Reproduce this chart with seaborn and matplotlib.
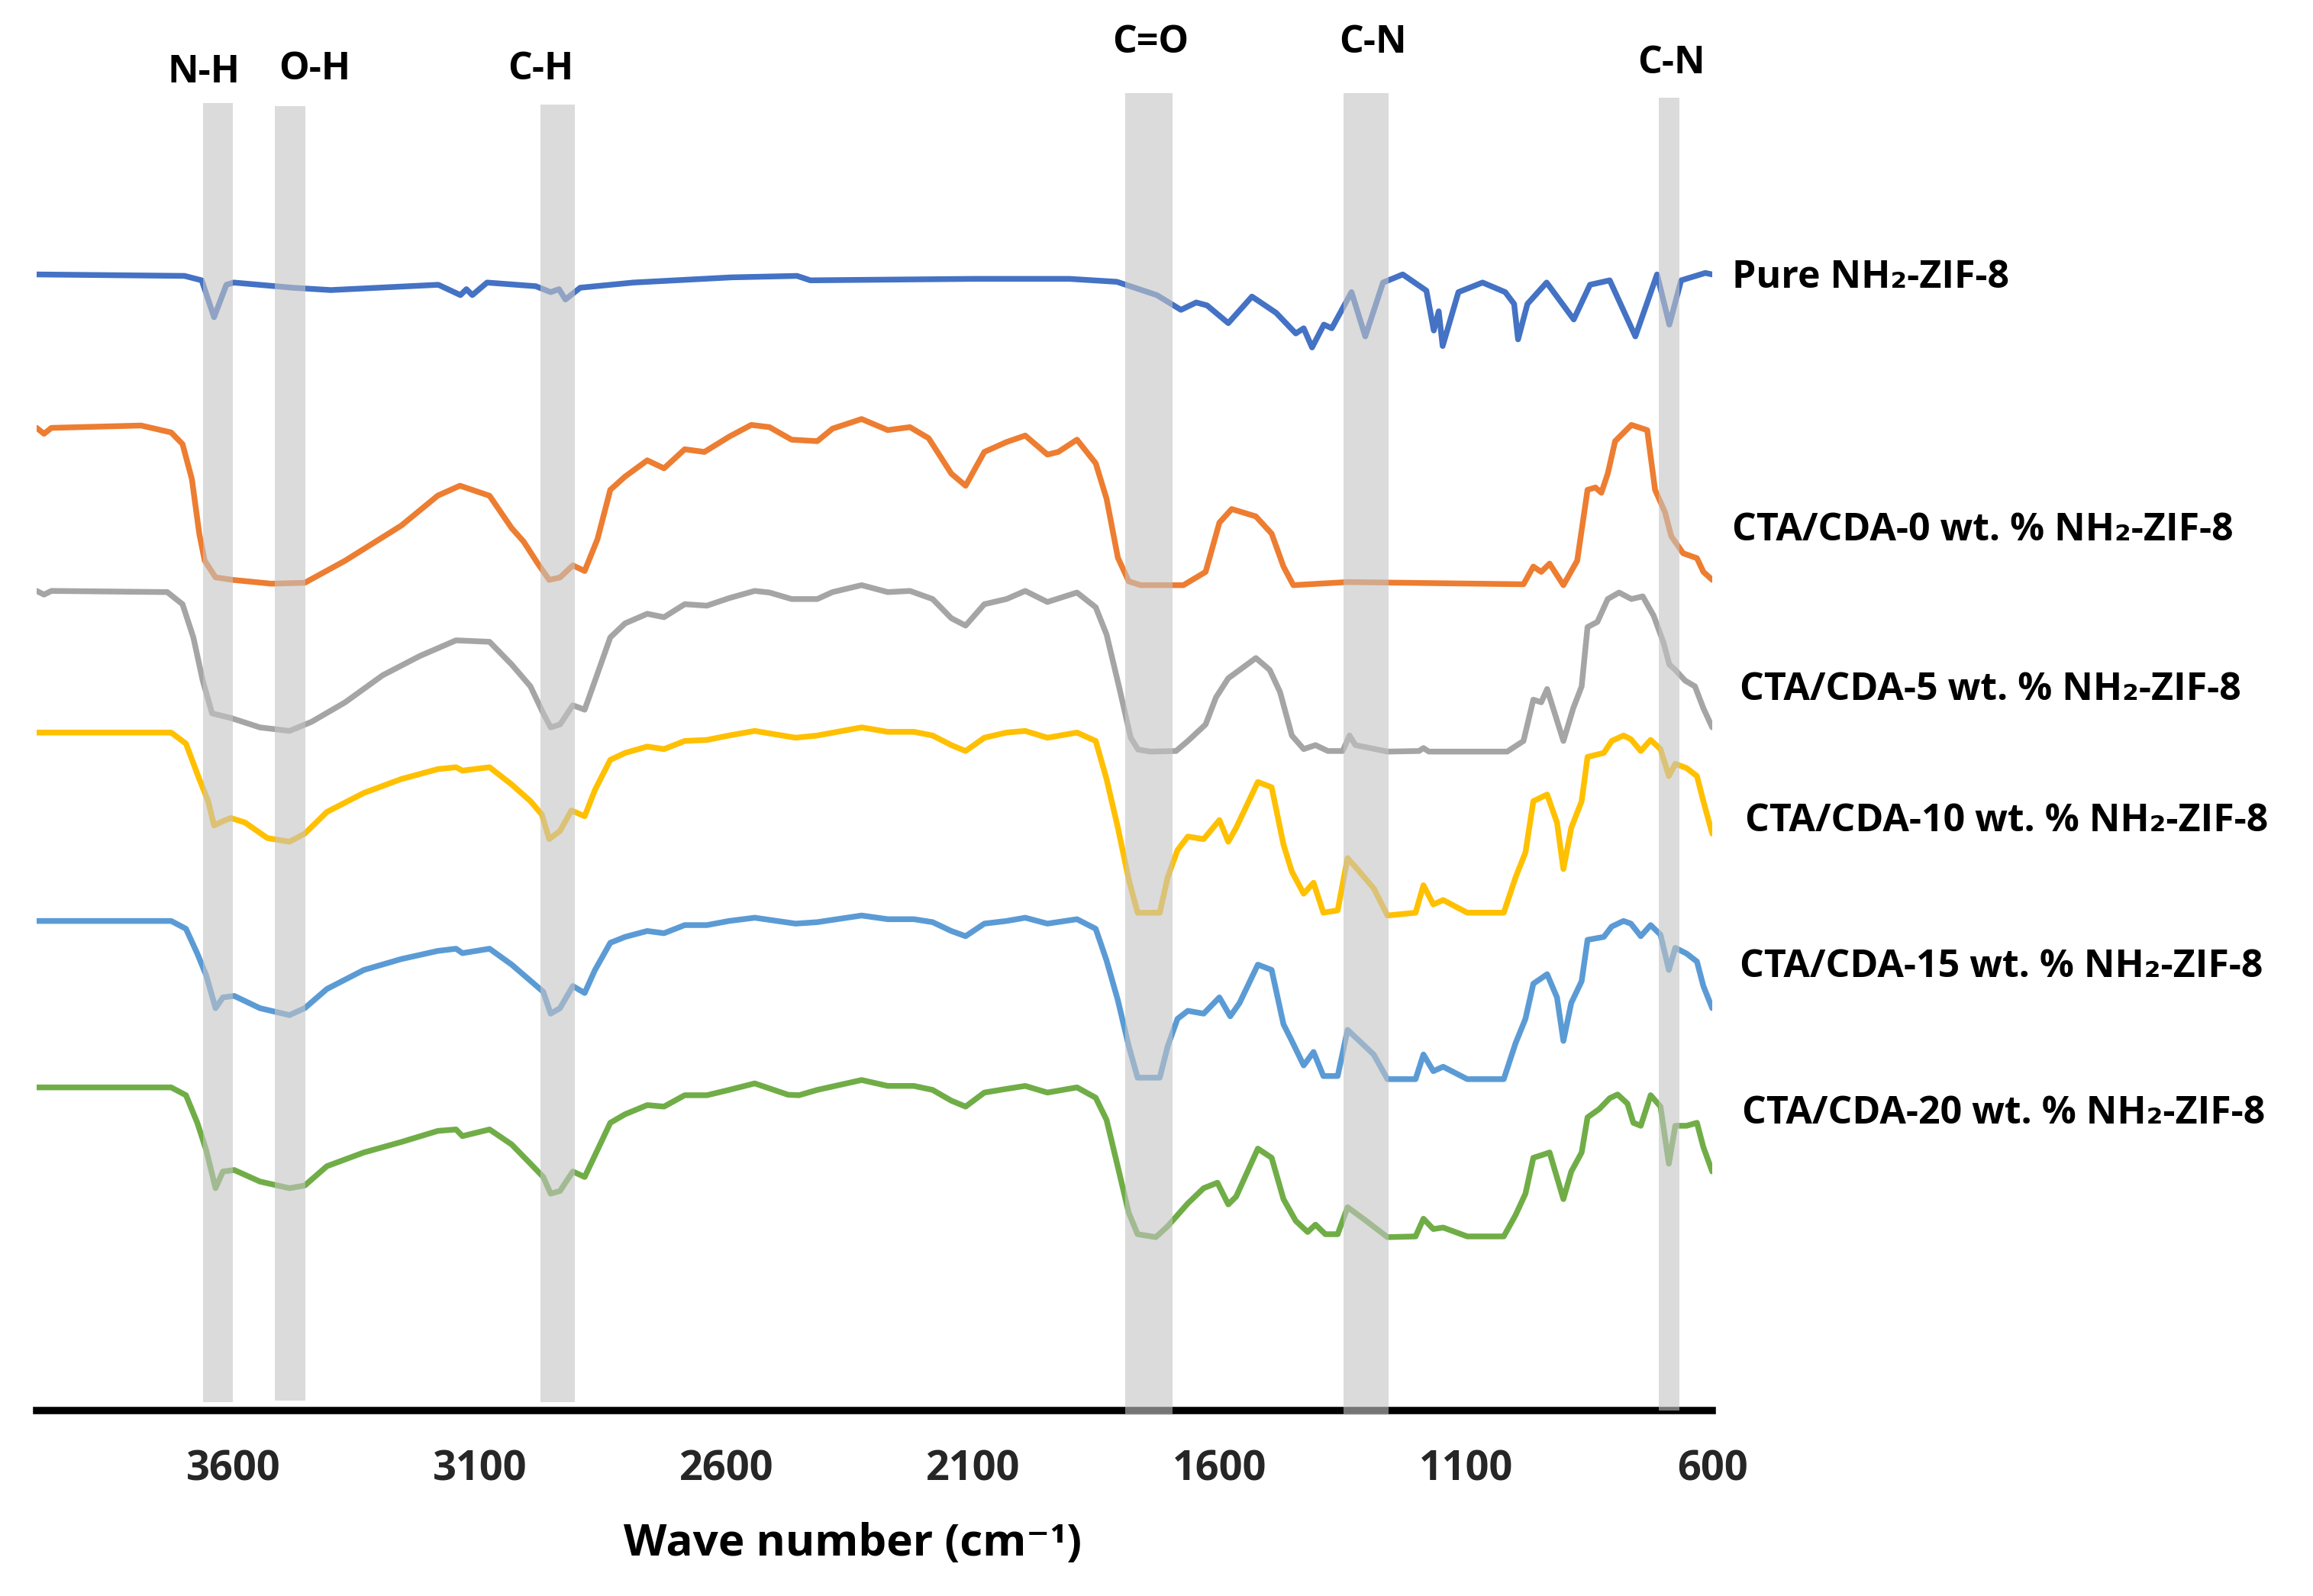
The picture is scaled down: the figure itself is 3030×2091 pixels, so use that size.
import pandas as pd
import matplotlib.pyplot as plt
import seaborn as sns

# FTIR spectra of NH2-ZIF-8 and CTA/CDA membranes (stacked, arbitrary units)
wn_pure = [4000, 3700, 3665, 3640, 3615, 3600, 3481, 3403, 3185, 3140, 3128, 3116, 3086, 2987,
           2957, 2940, 2927, 2897, 2789, 2591, 2457, 2430, 2100, 1904, 1808, 1727, 1678, 1647,
           1625, 1582, 1534, 1485, 1445, 1429, 1412, 1388, 1372, 1332, 1304, 1268, 1228, 1180,
           1165, 1155, 1147, 1115, 1066, 1020, 1002, 994, 975, 936, 881, 848, 808, 756, 712,
           687, 663, 614, 600]
t_pure = [7.70, 7.69, 7.66, 7.41, 7.63, 7.645, 7.61, 7.594, 7.63, 7.56, 7.60, 7.56, 7.645, 7.62,
          7.58, 7.60, 7.53, 7.61, 7.645, 7.68, 7.69, 7.66, 7.67, 7.67, 7.65, 7.56, 7.46, 7.51,
          7.49, 7.37, 7.55, 7.44, 7.30, 7.335, 7.205, 7.36, 7.335, 7.58, 7.28, 7.645, 7.70, 7.59,
          7.32, 7.45, 7.215, 7.58, 7.645, 7.58, 7.50, 7.26, 7.50, 7.645, 7.395, 7.63, 7.66, 7.28, 7.70,
          7.36, 7.66, 7.71, 7.70]

wn_0 = [4000, 3985, 3970, 3788, 3727, 3704, 3685, 3670, 3659, 3637, 3603, 3524, 3456, 3374, 3260,
        3186, 3141, 3081, 3036, 3012, 2983, 2960, 2938, 2912, 2888, 2862, 2836, 2806, 2761, 2727,
        2685, 2645, 2595, 2550, 2513, 2468, 2416, 2385, 2326, 2273, 2228, 2190, 2144, 2115, 2077,
        2032, 1994, 1949, 1927, 1889, 1851, 1829, 1806, 1784, 1760, 1673, 1628, 1600, 1575, 1526,
        1494, 1470, 1450, 1340, 983, 963, 947, 930, 902, 874, 853, 837, 825, 812, 797, 764, 732,
        716, 696, 683, 659, 631, 618, 600]
t_0 = [6.66, 6.62, 6.66, 6.676, 6.629, 6.55, 6.313, 5.943, 5.76, 5.647, 5.63, 5.604, 5.61, 5.76, 5.998,
       6.201, 6.268, 6.20, 5.98, 5.89, 5.74, 5.63, 5.646, 5.728, 5.69, 5.906, 6.24, 6.33, 6.44, 6.386,
       6.515, 6.497, 6.60, 6.68, 6.665, 6.58, 6.57, 6.655, 6.72, 6.645, 6.665, 6.59, 6.35, 6.268, 6.497,
       6.564, 6.608, 6.479, 6.497, 6.58, 6.42, 6.18, 5.78, 5.62, 5.594, 5.594, 5.684, 6.018, 6.11, 6.06,
       5.943, 5.72, 5.594, 5.615, 5.60, 5.72, 5.684, 5.74, 5.594, 5.76, 6.24, 6.256, 6.22, 6.35, 6.57,
       6.68, 6.645, 6.24, 6.09, 5.925, 5.81, 5.777, 5.684, 5.63]

wn_5 = [4000, 3985, 3970, 3735, 3704, 3682, 3663, 3644, 3606, 3547, 3487, 3442, 3374, 3298, 3223,
        3149, 3081, 3036, 2998, 2972, 2957, 2938, 2912, 2888, 2867, 2836, 2806, 2761, 2727, 2685,
        2640, 2595, 2543, 2513, 2468, 2416, 2385, 2326, 2273, 2228, 2182, 2144, 2115, 2077, 2032,
        1994, 1949, 1889, 1851, 1829, 1804, 1780, 1765, 1740, 1688, 1664, 1628, 1607, 1582, 1526,
        1498, 1477, 1453, 1429, 1405, 1380, 1350, 1336, 1324, 1259, 1195, 1186, 1175, 1016, 983,
        963, 947, 935, 902, 882, 865, 853, 833, 812, 789, 764, 741, 719, 699, 687, 675, 655, 635,
        618, 600]
t_5 = [5.555, 5.53, 5.555, 5.547, 5.465, 5.24, 4.947, 4.725, 4.694, 4.63, 4.606, 4.668, 4.80, 4.983, 5.113,
       5.22, 5.21, 5.056, 4.908, 4.725, 4.63, 4.65, 4.78, 4.75, 4.947, 5.24, 5.335, 5.40, 5.377, 5.465,
       5.455, 5.506, 5.555, 5.544, 5.50, 5.50, 5.547, 5.594, 5.547, 5.555, 5.50, 5.37, 5.32, 5.465, 5.50,
       5.555, 5.48, 5.544, 5.444, 5.26, 4.91, 4.56, 4.48, 4.466, 4.47, 4.538, 4.65, 4.833, 4.963, 5.10,
       5.02, 4.87, 4.575, 4.483, 4.51, 4.47, 4.47, 4.575, 4.51, 4.466, 4.47, 4.49, 4.466, 4.466, 4.538,
       4.818, 4.80, 4.89, 4.538, 4.76, 4.908, 5.31, 5.345, 5.50, 5.544, 5.50, 5.518, 5.388, 5.206, 5.056,
       5.02, 4.947, 4.908, 4.76, 4.63]

wn_10 = [4000, 3727, 3697, 3670, 3652, 3640, 3625, 3606, 3577, 3532, 3487, 3456, 3411, 3336, 3260,
         3186, 3149, 3136, 3081, 3036, 2998, 2975, 2960, 2938, 2915, 2888, 2867, 2836, 2806, 2761,
         2727, 2685, 2640, 2595, 2543, 2460, 2416, 2326, 2273, 2220, 2182, 2144, 2115, 2077, 2032,
         1994, 1949, 1889, 1851, 1829, 1806, 1784, 1766, 1721, 1705, 1685, 1664, 1632, 1600, 1582,
         1566, 1522, 1494, 1470, 1453, 1429, 1409, 1389, 1360, 1340, 1316, 1287, 1259, 1202, 1186,
         1166, 1146, 1097, 1023, 999, 979, 963, 935, 915, 902, 886, 865, 853, 820, 804, 780, 765,
         745, 725, 705, 688, 675, 652, 631, 618, 600]
t_10 = [4.595, 4.595, 4.52, 4.28, 4.13, 3.965, 3.99, 4.016, 3.985, 3.88, 3.855, 3.91, 4.057, 4.186, 4.28,
        4.347, 4.36, 4.337, 4.36, 4.243, 4.13, 4.04, 3.873, 3.928, 4.067, 4.028, 4.207, 4.41, 4.457, 4.50,
        4.483, 4.538, 4.545, 4.575, 4.606, 4.56, 4.575, 4.63, 4.60, 4.60, 4.575, 4.51, 4.47, 4.56, 4.595,
        4.606, 4.56, 4.595, 4.538, 4.28, 3.95, 3.60, 3.374, 3.374, 3.614, 3.798, 3.89, 3.873, 4.002, 3.855,
        3.95, 4.26, 4.224, 3.836, 3.653, 3.503, 3.577, 3.374, 3.39, 3.744, 3.653, 3.54, 3.355, 3.374, 3.56,
        3.43, 3.46, 3.374, 3.374, 3.614, 3.782, 4.13, 4.175, 3.985, 3.67, 3.95, 4.13, 4.43, 4.457, 4.538,
        4.575, 4.55, 4.47, 4.545, 4.483, 4.30, 4.383, 4.354, 4.30, 4.13, 3.91]

wn_15 = [4000, 3727, 3697, 3674, 3656, 3637, 3622, 3599, 3547, 3487, 3456, 3411, 3336, 3260, 3186,
         3149, 3136, 3081, 3036, 2998, 2972, 2957, 2938, 2912, 2888, 2867, 2836, 2806, 2761, 2727,
         2685, 2640, 2595, 2543, 2460, 2416, 2326, 2273, 2220, 2182, 2144, 2115, 2077, 2032, 1994,
         1949, 1889, 1851, 1829, 1806, 1784, 1766, 1721, 1705, 1685, 1664, 1632, 1600, 1578, 1559,
         1522, 1494, 1470, 1453, 1429, 1409, 1389, 1360, 1340, 1316, 1287, 1259, 1202, 1186, 1166,
         1146, 1097, 1023, 999, 979, 963, 935, 915, 902, 886, 865, 853, 820, 804, 780, 765, 745,
         725, 705, 688, 675, 652, 631, 618, 600]
t_15 = [3.318, 3.318, 3.265, 3.097, 2.95, 2.727, 2.80, 2.81, 2.727, 2.68, 2.727, 2.857, 2.986, 3.06, 3.115,
        3.13, 3.10, 3.13, 3.022, 2.913, 2.838, 2.69, 2.727, 2.877, 2.83, 2.986, 3.17, 3.21, 3.25, 3.235,
        3.29, 3.29, 3.318, 3.34, 3.30, 3.31, 3.355, 3.33, 3.33, 3.31, 3.25, 3.215, 3.30, 3.318, 3.34,
        3.30, 3.33, 3.265, 3.05, 2.78, 2.47, 2.256, 2.256, 2.468, 2.655, 2.709, 2.69, 2.80, 2.672, 2.763,
        3.022, 2.986, 2.618, 2.505, 2.339, 2.43, 2.267, 2.267, 2.58, 2.505, 2.413, 2.246, 2.246, 2.413, 2.30,
        2.33, 2.246, 2.246, 2.49, 2.655, 2.893, 2.957, 2.80, 2.505, 2.763, 2.91, 3.19, 3.21, 3.28, 3.318,
        3.30, 3.215, 3.29, 3.225, 2.986, 3.136, 3.097, 3.043, 2.877, 2.727]

wn_20 = [4000, 3727, 3697, 3674, 3656, 3637, 3622, 3599, 3547, 3487, 3456, 3411, 3336, 3260, 3186,
         3149, 3136, 3081, 3036, 2998, 2972, 2957, 2938, 2912, 2888, 2862, 2836, 2806, 2761, 2727,
         2685, 2640, 2595, 2543, 2475, 2453, 2416, 2326, 2273, 2220, 2182, 2144, 2115, 2077, 2032,
         1994, 1949, 1889, 1851, 1829, 1806, 1784, 1766, 1729, 1705, 1664, 1632, 1604, 1582, 1566,
         1522, 1494, 1470, 1445, 1421, 1405, 1385, 1360, 1340, 1308, 1259, 1202, 1186, 1166, 1146,
         1097, 1023, 999, 979, 963, 947, 930, 902, 886, 865, 853, 829, 808, 792, 772, 760, 745, 725,
         705, 688, 675, 652, 631, 618, 600]
t_20 = [2.19, 2.19, 2.137, 1.95, 1.766, 1.507, 1.62, 1.63, 1.552, 1.507, 1.525, 1.656, 1.749, 1.82, 1.895,
        1.905, 1.86, 1.905, 1.803, 1.673, 1.583, 1.47, 1.488, 1.62, 1.583, 1.766, 1.95, 2.008, 2.07, 2.06,
        2.137, 2.137, 2.173, 2.217, 2.14, 2.137, 2.173, 2.24, 2.20, 2.20, 2.173, 2.10, 2.06, 2.155, 2.18,
        2.20, 2.155, 2.19, 2.12, 1.97, 1.65, 1.34, 1.195, 1.175, 1.249, 1.404, 1.507, 1.544, 1.397, 1.45,
        1.775, 1.713, 1.433, 1.285, 1.21, 1.26, 1.195, 1.195, 1.378, 1.30, 1.175, 1.18, 1.30, 1.23, 1.24,
        1.18, 1.18, 1.325, 1.47, 1.713, 1.73, 1.749, 1.433, 1.62, 1.749, 1.987, 2.044, 2.117, 2.142, 2.08,
        1.95, 1.93, 2.137, 2.06, 1.673, 1.93, 1.93, 1.95, 1.785, 1.62]

series_names = ['Pure NH₂-ZIF-8',
                'CTA/CDA-0 wt. % NH₂-ZIF-8',
                'CTA/CDA-5 wt. % NH₂-ZIF-8',
                'CTA/CDA-10 wt. % NH₂-ZIF-8',
                'CTA/CDA-15 wt. % NH₂-ZIF-8',
                'CTA/CDA-20 wt. % NH₂-ZIF-8']
series_wn = [wn_pure, wn_0, wn_5, wn_10, wn_15, wn_20]
series_t = [t_pure, t_0, t_5, t_10, t_15, t_20]
colors = ['#4472C4', '#ED7D31', '#A5A5A5', '#FFC000', '#5B9BD5', '#70AD47']

# shaded vibration bands (wavenumber ranges)
band_names = ['N-H', 'O-H', 'C-H', 'C=O', 'C-N', 'C-N']
band_lo = [3602, 3454, 2908, 1695, 1256, 667]
band_hi = [3662, 3516, 2977, 1791, 1348, 708]
tick_values = [3600, 3100, 2600, 2100, 1600, 1100, 600]

df = pd.concat([pd.DataFrame({'wavenumber': w, 'T': t, 'sample': n})
                for w, t, n in zip(series_wn, series_t, series_names)], ignore_index=True)

sns.set_style("white")
plt.rcParams['font.family'] = ['Open Sans', 'DejaVu Sans']
plt.rcParams['font.weight'] = 'bold'

fig = plt.figure(figsize=(10.1, 6.97), dpi=300)
ax = fig.add_axes([48 / 3030, 1 - 1848 / 2091, (2243 - 48) / 3030, 1848 / 2091])

sns.lineplot(data=df, x='wavenumber', y='T', hue='sample', hue_order=series_names,
             palette=colors, sort=False, estimator=None, legend=False, linewidth=1.8,
             solid_joinstyle='round', solid_capstyle='round', ax=ax, zorder=2)

# grey bands drawn above the curves, as in the original
band_bottom = [0.006, 0.007, 0.006, -0.003, -0.003, 0.0]
band_top = [0.927, 0.925, 0.926, 0.934, 0.934, 0.931]
label_y = [9.07, 9.09, 9.09, 9.27, 9.27, 9.13]
label_x = [3660, 3436, 2977, 1740, 1288, 683]
for lo, hi, b, t in zip(band_lo, band_hi, band_bottom, band_top):
    ax.axvspan(lo, hi, ymin=b, ymax=t, color='#C4C4C4', alpha=0.6, lw=0, zorder=3, clip_on=False)
for name, x, y in zip(band_names, label_x, label_y):
    ax.text(x, y, name, ha='center', va='center', fontsize=12, fontweight='bold', color='black')

ax.set_xlim(4000, 600)
ax.set_ylim(0, 9.56)
ax.set_xticks(tick_values)
ax.set_xticklabels([str(v) for v in tick_values])
ax.tick_params(axis='x', length=0, pad=12, labelsize=13)
ax.set_yticks([])
ax.set_xlabel('')
ax.set_ylabel('')
for side in ['top', 'left', 'right']:
    ax.spines[side].set_visible(False)
ax.spines['bottom'].set_linewidth(2.3)
ax.spines['bottom'].set_color('black')

# series labels at the right of each curve
label_px = [(2269, 364), (2269, 695), (2279, 904), (2286, 1076), (2279, 1267), (2282, 1459)]
for name, (px, py) in zip(series_names, label_px):
    fig.text(px / 3030, 1 - py / 2091, name, ha='left', va='center',
             fontsize=12, fontweight='bold', color='black')

fig.text(1117 / 3030, 1 - 2023 / 2091, 'Wave number (cm⁻¹)', ha='center', va='center',
         fontsize=14, fontweight='bold', color='black')

plt.savefig('out.png', dpi=300)
